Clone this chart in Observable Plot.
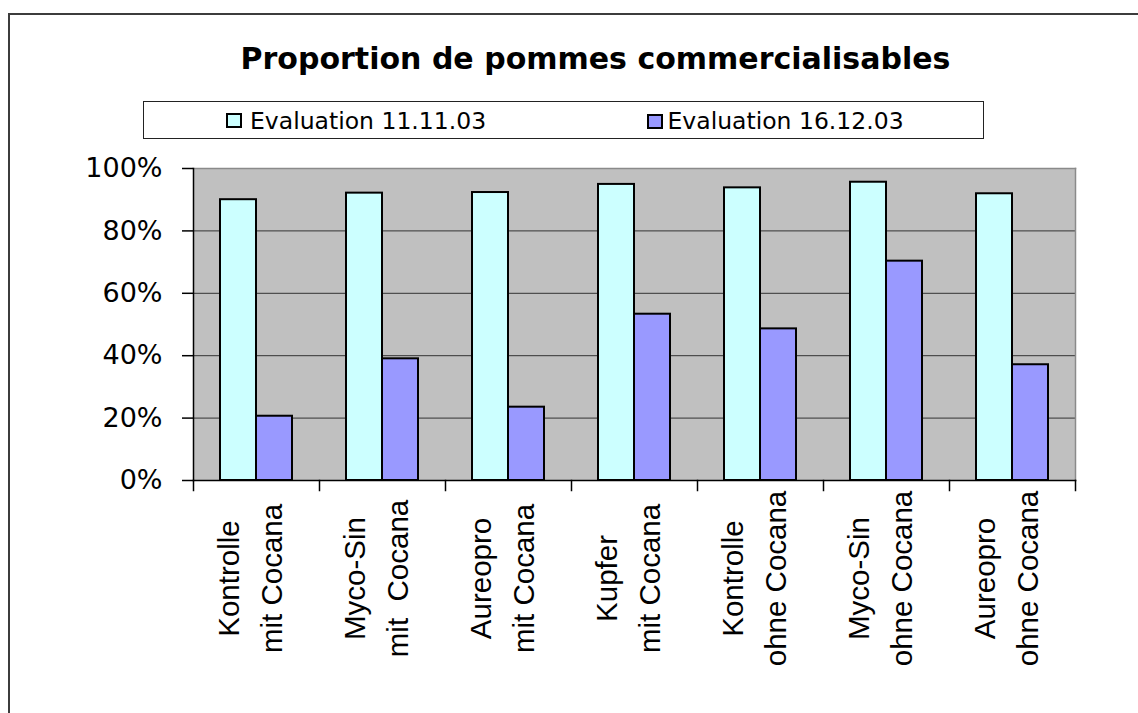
<!DOCTYPE html>
<html>
<head>
<meta charset="utf-8">
<script src="https://cdn.jsdelivr.net/npm/d3@7"></script>
<script src="https://cdn.jsdelivr.net/npm/@observablehq/plot@0.6"></script>
<style>
  html, body { margin: 0; padding: 0; background: #fff; }
  body { width: 1138px; height: 713px; overflow: hidden; position: relative; font-family: "DejaVu Sans", sans-serif; }
  #outer { position: absolute; left: 8px; top: 13px; width: 1300px; height: 900px; border-left: 2px solid #3c3c3c; border-top: 2px solid #3c3c3c; }
  #title { position: absolute; left: 595.5px; top: 44px; transform: translateX(-50%); white-space: nowrap;
           font-family: "DejaVu Sans", sans-serif; font-weight: bold; font-size: 30px; line-height: 30px; color: #000; }
  #legend { position: absolute; left: 143px; top: 101px; width: 841px; height: 38px; box-sizing: border-box; border: 1px solid #222; background: #fff; }
  .sw { position: absolute; width: 16px; height: 15px; box-sizing: border-box; border: 2px solid #000; }
  .lt { position: absolute; font-family: "DejaVu Sans", sans-serif; font-size: 23.5px; line-height: 23px; white-space: nowrap; color: #000; }
  #chart { position: absolute; left: 0; top: 150px; }
</style>
</head>
<body>
<div id="outer"></div>
<div id="title"></div>
<div id="legend"></div>
<div id="chart"></div>
<script>
// ---- data ----
const categories = [
  "Kontrolle\nmit Cocana",
  "Myco-Sin\nmit  Cocana",
  "Aureopro\nmit Cocana",
  "Kupfer\nmit Cocana",
  "Kontrolle\nohne Cocana",
  "Myco-Sin\nohne Cocana",
  "Aureopro\nohne Cocana"
];
const seriesNames = ["Evaluation 11.11.03", "Evaluation 16.12.03"];
const evaluation1 = [90.0, 92.1, 92.3, 94.9, 93.8, 95.6, 91.9];
const evaluation2 = [20.6, 39.0, 23.5, 53.3, 48.6, 70.3, 37.1];
const yTicks = [0, 20, 40, 60, 80, 100];
const gridValues = [20, 40, 60, 80];
const colors = ["#ccffff", "#9999ff"];
const titleText = "Proportion de pommes commercialisables";

const data = [];
categories.forEach((c, i) => {
  data.push({cat: c, series: seriesNames[0], value: evaluation1[i]});
  data.push({cat: c, series: seriesNames[1], value: evaluation2[i]});
});

// ---- title & legend ----
document.getElementById("title").textContent = titleText;
const legend = document.getElementById("legend");
const legendPos = [{sw: 225 - 143, tx: 249 - 143, swTop: 11}, {sw: 646 - 143, tx: 666.5 - 143, swTop: 11.5}];
seriesNames.forEach((s, i) => {
  const sw = document.createElement("div");
  sw.className = "sw";
  sw.style.left = legendPos[i].sw + "px";
  sw.style.top = legendPos[i].swTop + "px";
  sw.style.background = colors[i];
  legend.appendChild(sw);
  const t = document.createElement("div");
  t.className = "lt";
  t.style.left = legendPos[i].tx + "px";
  t.style.top = "7.5px";
  t.textContent = s;
  legend.appendChild(t);
});

// ---- chart ----
const chart = Plot.plot({
  width: 1138,
  height: 563,
  marginTop: 18,
  marginBottom: 233,
  marginLeft: 190,
  marginRight: 60,
  style: {fontFamily: "DejaVu Sans, sans-serif", fontSize: "27px", color: "#000", background: "transparent", overflow: "visible"},
  fx: {domain: categories, padding: 0, paddingInner: 0, paddingOuter: 0, axis: null, label: null},
  x: {domain: seriesNames, paddingInner: 0, paddingOuter: 0.733, axis: null, label: null},
  y: {domain: [0, 100], axis: null, label: null},
  color: {domain: seriesNames, range: colors},
  marks: [
    Plot.frame({facet: "super", fill: "#c0c0c0", stroke: null}),
    Plot.ruleY(gridValues, {stroke: "#333", strokeWidth: 1}),
    Plot.frame({facet: "super", anchor: "top", stroke: "#8a8a8a", strokeWidth: 1.5}),
    Plot.frame({facet: "super", anchor: "right", stroke: "#8a8a8a", strokeWidth: 1.5}),
    Plot.barY(data, {fx: "cat", x: "series", y: "value", fill: "series", stroke: "#000", strokeWidth: 2}),
    Plot.frame({facet: "super", anchor: "left", stroke: "#000", strokeWidth: 1.5}),
    Plot.frame({facet: "super", anchor: "bottom", stroke: "#000", strokeWidth: 1.5}),
    Plot.frame({anchor: "left", stroke: "#000", strokeWidth: 1.5, insetTop: 312, insetBottom: -10}),
    Plot.frame({facet: "super", anchor: "right", stroke: "#000", strokeWidth: 1.5, insetTop: 312, insetBottom: -10}),
    Plot.axisY({ticks: yTicks, tickFormat: d => d + "%", tickSize: 11, tickPadding: 20, fontSize: 27, stroke: "#000", strokeWidth: 1.5, label: null}),
    Plot.text(categories, {fx: d => d, text: d => d, frameAnchor: "bottom", dx: 25, dy: 98, rotate: -90, textAnchor: "middle",
      lineHeight: 1.45, fontSize: 29.5, fontFamily: "Liberation Sans, Arial, sans-serif", fill: "#000"})
  ]
});
document.getElementById("chart").appendChild(chart);
</script>
</body>
</html>
